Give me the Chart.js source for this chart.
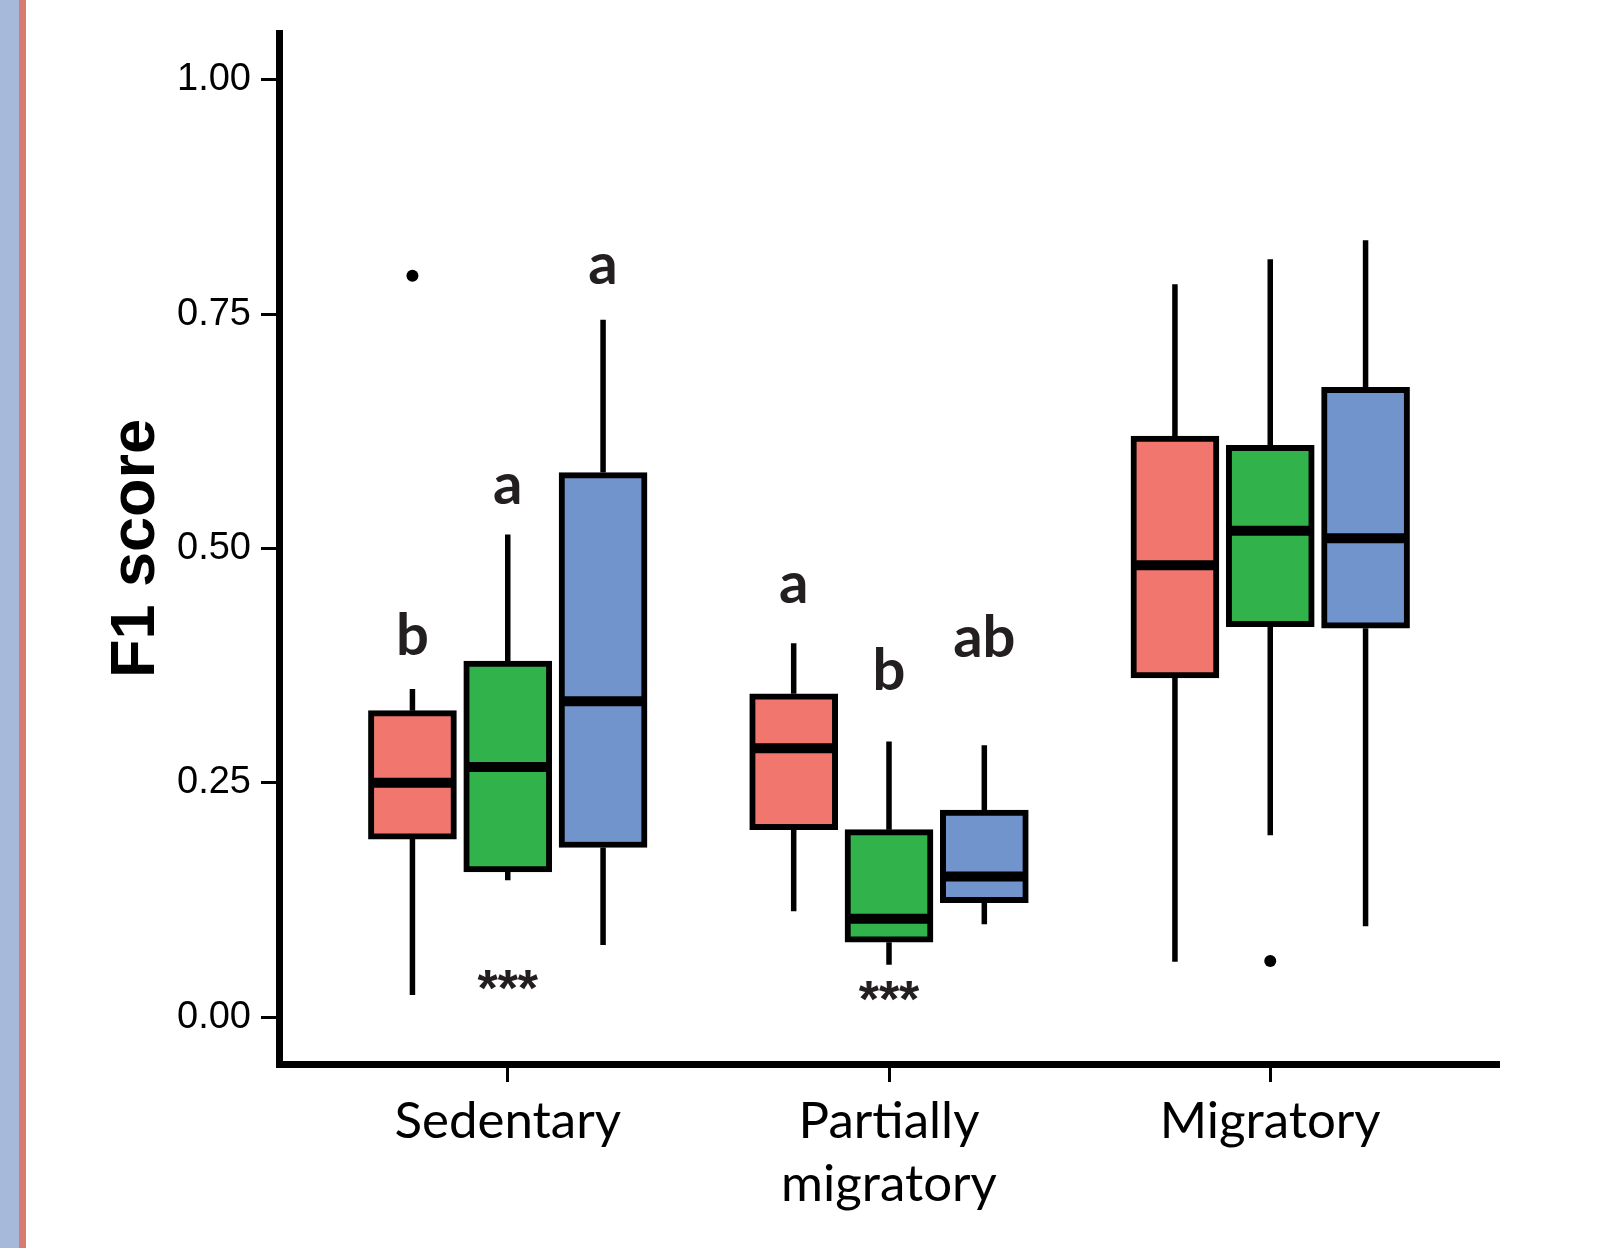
<!DOCTYPE html>
<html>
<head>
<meta charset="utf-8">
<script src="https://cdn.jsdelivr.net/npm/chart.js@4.4.1/dist/chart.umd.min.js"></script>
<style>
html, body { margin: 0; padding: 0; background: #ffffff; }
#wrap { position: relative; width: 1610px; height: 1248px; overflow: hidden; }
#c { position: absolute; left: 0; top: 0; }
#stripBlue { position: absolute; left: 0; top: 0; width: 19px; height: 1248px; background: #A7B9DA; }
#stripRed { position: absolute; left: 19px; top: 0; width: 7px; height: 1248px; background: #D97A70; }
</style>
</head>
<body>
<div id="wrap">
  <canvas id="c" width="1610" height="1248"></canvas>
  <div id="stripBlue"></div>
  <div id="stripRed"></div>
</div>
<script>
// ---------------- data ----------------
const categories = ['Sedentary', 'Partially migratory', 'Migratory'];
const categoryLines = [['Sedentary'], ['Partially', 'migratory'], ['Migratory']];
const seriesNames = ['Series 1', 'Series 2', 'Series 3'];
const yTicks = [0, 0.25, 0.5, 0.75, 1.0];

// series 1 (red)
const s1Low    = [0.0235, 0.113, 0.059];
const s1Q1     = [0.190, 0.200, 0.362];
const s1Median = [0.250, 0.287, 0.482];
const s1Q3     = [0.327, 0.345, 0.620];
const s1High   = [0.350, 0.399, 0.782];
// series 2 (green)
const s2Low    = [0.146, 0.056, 0.194];
const s2Q1     = [0.155, 0.080, 0.4165];
const s2Median = [0.267, 0.105, 0.519];
const s2Q3     = [0.380, 0.200, 0.610];
const s2High   = [0.515, 0.294, 0.8085];
// series 3 (blue)
const s3Low    = [0.077, 0.099, 0.097];
const s3Q1     = [0.181, 0.122, 0.415];
const s3Median = [0.337, 0.150, 0.511];
const s3Q3     = [0.581, 0.221, 0.672];
const s3High   = [0.744, 0.290, 0.829];

// outliers
const outlierCategory = [0, 2];
const outlierSeries   = [0, 1];
const outlierValue    = [0.791, 0.060];

// significance letters
const letterText     = ['b', 'a', 'a', 'a', 'b', 'ab'];
const letterCategory = [0, 0, 0, 1, 1, 1];
const letterSeries   = [0, 1, 2, 0, 1, 2];
const letterY        = [0.386, 0.548, 0.782, 0.4415, 0.349, 0.384];

// stars
const starText     = ['***', '***'];
const starCategory = [0, 1];
const starY        = [0.012, 0.0];

// ---------------- build ----------------
const groupX = categories.map((_, i) => i + 1);
const dodge = [-0.25, 0, 0.25];
const colors = ['#F1766D', '#31B24A', '#7194CD'];
const stats = [
  { low: s1Low, q1: s1Q1, med: s1Median, q3: s1Q3, high: s1High },
  { low: s2Low, q1: s2Q1, med: s2Median, q3: s2Q3, high: s2High },
  { low: s3Low, q1: s3Q1, med: s3Median, q3: s3Q3, high: s3High }
];
const posX = (cat, ser) => groupX[cat] + dodge[ser];

const boxDatasets = stats.map((s, k) => ({
  type: 'bar',
  label: seriesNames[k],
  data: categories.map((_, i) => ({ x: posX(i, k), y: [s.q1[i], s.q3[i]] })),
  backgroundColor: colors[k],
  borderColor: '#000000',
  borderWidth: 6,
  borderSkipped: false,
  barThickness: 88,
  grouped: false,
  order: 2
}));

const whiskerData = [];
stats.forEach((s, k) => categories.forEach((_, i) => {
  const x = posX(i, k);
  whiskerData.push({ x, y: s.low[i] }, { x, y: s.q1[i] }, { x, y: null },
                   { x, y: s.q3[i] }, { x, y: s.high[i] }, { x, y: null });
}));

const medianData = [];
stats.forEach((s, k) => categories.forEach((_, i) => medianData.push({ x: posX(i, k), y: s.med[i] })));

const outlierData = outlierValue.map((v, j) => ({ x: posX(outlierCategory[j], outlierSeries[j]), y: v }));

const datasets = [
  { type: 'scatter', label: 'outliers', data: outlierData, pointRadius: 6, pointBackgroundColor: '#000', pointBorderWidth: 0, order: 0 },
  { type: 'scatter', label: 'medians', data: medianData, pointStyle: 'line', pointRadius: 41, pointBorderWidth: 10, pointBorderColor: '#000', order: 1 },
  ...boxDatasets,
  { type: 'line', label: 'whiskers', data: whiskerData, borderColor: '#000', borderWidth: 5.5, pointRadius: 0, spanGaps: false, fill: false, tension: 0, order: 3 }
];

const annotations = {
  id: 'annotations',
  afterDatasetsDraw(chart) {
    const { ctx, scales: { x, y } } = chart;
    ctx.save();
    ctx.fillStyle = '#231F20';
    ctx.textAlign = 'center';
    ctx.textBaseline = 'alphabetic';
    ctx.font = 'bold 58px Lato';
    letterText.forEach((t, j) => {
      ctx.fillText(t, x.getPixelForValue(posX(letterCategory[j], letterSeries[j])), y.getPixelForValue(letterY[j]));
    });
    ctx.font = 'bold 52px "Liberation Sans"';
    starText.forEach((t, j) => {
      ctx.fillText(t, x.getPixelForValue(groupX[starCategory[j]]), y.getPixelForValue(starY[j]));
    });
    ctx.restore();
  }
};

new Chart(document.getElementById('c'), {
  type: 'bar',
  data: { datasets },
  plugins: [annotations],
  options: {
    responsive: false,
    animation: false,
    devicePixelRatio: 1,
    layout: { autoPadding: false, padding: { left: 0, top: 33, right: 111, bottom: 0 } },
    plugins: { legend: { display: false }, tooltip: { enabled: false } },
    scales: {
      x: {
        type: 'linear',
        min: 0.4,
        max: 3.6,
        offset: false,
        afterBuildTicks: s => { s.ticks = groupX.map(v => ({ value: v })); },
        afterFit: s => { s.height = 184; s.paddingLeft = 0; s.paddingRight = 0; },
        grid: { offset: false, drawOnChartArea: false, drawTicks: true, tickLength: 18, tickWidth: 3, tickColor: '#000' },
        border: { display: true, color: '#000', width: 7 },
        ticks: {
          callback: v => categoryLines[Math.round(v) - 1],
          font: { family: 'Lato', size: 51, lineHeight: 1.235 },
          color: '#000',
          padding: 8,
          maxRotation: 0,
          autoSkip: false
        }
      },
      y: {
        type: 'linear',
        min: -0.05,
        max: 1.05,
        afterBuildTicks: s => { s.ticks = yTicks.map(v => ({ value: v })); },
        afterFit: s => { s.width = 279; s.paddingTop = 0; s.paddingBottom = 0; },
        grid: { drawOnChartArea: false, drawTicks: true, tickLength: 18, tickWidth: 3, tickColor: '#000' },
        border: { display: true, color: '#000', width: 7 },
        ticks: {
          callback: v => Number(v).toFixed(2),
          font: { family: 'Liberation Sans', size: 38 },
          color: '#000',
          padding: 10
        },
        title: {
          display: true,
          text: 'F1 score',
          font: { family: 'Liberation Sans', size: 63, weight: 'bold' },
          color: '#000',
          padding: { top: 99, bottom: 0 }
        }
      }
    }
  }
});
</script>
</body>
</html>
